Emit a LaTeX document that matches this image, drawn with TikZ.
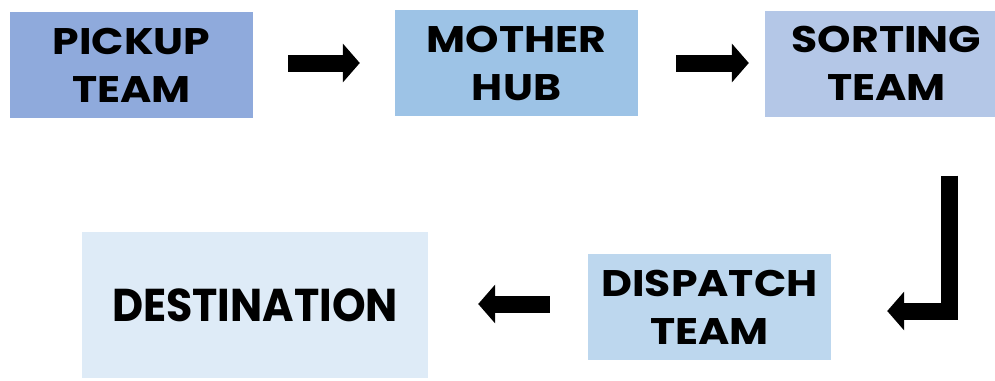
\documentclass[tikz,border=0pt]{standalone}
\usepackage{fontspec}
\setmainfont{Poppins}
\newfontfamily\stagefont{Poppins}[FakeStretch=1.15]
\newfontfamily\destfont{Poppins}[FakeStretch=0.93]
\usetikzlibrary{arrows.meta}
\definecolor{pickupfill}{HTML}{8FAADC}
\definecolor{hubfill}{HTML}{9DC3E6}
\definecolor{sortfill}{HTML}{B4C7E7}
\definecolor{dispatchfill}{HTML}{BDD7EE}
\definecolor{destfill}{HTML}{DEEBF7}

\tikzset{
  stagebox/.style={rectangle, draw=none, inner sep=0pt, align=center,
    minimum width=243pt, minimum height=106pt,
    font=\stagefont\fontsize{37}{48}\selectfont\bfseries},
  blockarrow/.style={draw=black, line width=17pt, line join=miter,
    -{Triangle[length=17pt, width=38pt]}},
}

\begin{document}
\begin{tikzpicture}[x=1pt, y=-1pt]
  \useasboundingbox (0,0) rectangle (995,380);
  % top row: pickup -> hub -> sorting
  \node[stagebox, fill=pickupfill] (pickup) at (131.5,65) {PICKUP\\TEAM};
  \node[stagebox, fill=hubfill] (hub) at (516.5,63) {MOTHER\\HUB};
  \node[stagebox, fill=sortfill] (sorting) at (886.5,63.5) {SORTING\\TEAM};
  % bottom row: dispatch -> destination
  \node[stagebox, fill=dispatchfill] (dispatch) at (709.5,307) {DISPATCH\\TEAM};
  \node[stagebox, fill=destfill, minimum width=346pt, minimum height=146pt,
        font=\destfont\fontsize{46}{48}\selectfont\bfseries] (dest) at (255,305) {DESTINATION};

  \draw[blockarrow, shorten <=35pt, shorten >=35pt]
    (pickup.east |- hub.west) -- (hub.west);
  \draw[blockarrow, shorten <=38pt, shorten >=16pt]
    (hub.east) -- (hub.east -| sorting.west);
  % the elbow: down from sorting, then left into dispatch
  \draw[blockarrow, shorten <=59pt, shorten >=56pt]
    ([xshift=62.5pt]sorting.south) |- ([yshift=-4pt]dispatch.east);
  \draw[blockarrow, shorten <=38pt, shorten >=50pt]
    ([yshift=3pt]dispatch.west) -- ([yshift=3pt]dispatch.west -| dest.east);
\end{tikzpicture}
\end{document}
